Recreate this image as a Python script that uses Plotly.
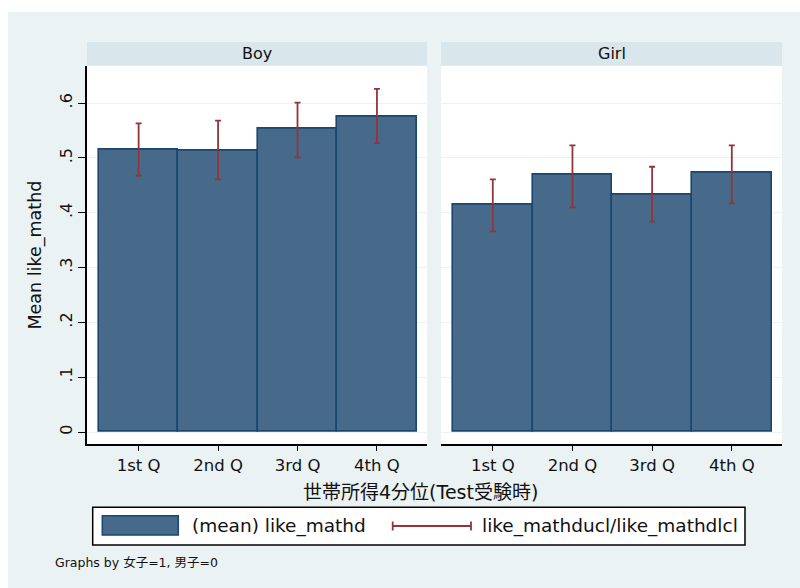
import plotly.graph_objects as go

# Income quartile categories and group labels
quartiles = ["1st Q", "2nd Q", "3rd Q", "4th Q"]
groups = ["Boy", "Girl"]

# Mean of like_mathd with upper / lower confidence limits
boy_mean = [0.516, 0.513, 0.553, 0.575]
boy_ucl = [0.563, 0.568, 0.601, 0.626]
boy_lcl = [0.468, 0.461, 0.501, 0.527]

girl_mean = [0.415, 0.469, 0.433, 0.473]
girl_ucl = [0.461, 0.523, 0.484, 0.523]
girl_lcl = [0.366, 0.410, 0.384, 0.417]

y_tick_vals = [0, 0.1, 0.2, 0.3, 0.4, 0.5, 0.6]
y_tick_text = ["0", ".1", ".2", ".3", ".4", ".5", ".6"]

BG = "#EAF2F3"
STRIP = "#D9E6EB"
BAR_FILL = "#476A8A"
BAR_LINE = "#1A476F"
MAROON = "#90353B"
FONT = "DejaVu Sans, Noto Sans CJK JP, sans-serif"

W, H = 800, 588


def px_x(v):
    return v / W


def px_y(v):
    return (H - v) / H


fig = go.Figure()

panels = [
    (boy_mean, boy_ucl, boy_lcl, "x", "y"),
    (girl_mean, girl_ucl, girl_lcl, "x2", "y2"),
]
for mean, ucl, lcl, xa, ya in panels:
    fig.add_trace(go.Bar(
        x=quartiles, y=mean, xaxis=xa, yaxis=ya,
        marker=dict(color=BAR_FILL, line=dict(color=BAR_LINE, width=1.6)),
        error_y=dict(
            type="data", symmetric=False,
            array=[u - m for u, m in zip(ucl, mean)],
            arrayminus=[m - l for m, l in zip(mean, lcl)],
            color=MAROON, thickness=1.8, width=3,
        ),
        showlegend=False, hoverinfo="skip",
    ))

x_dom_left = [px_x(87), px_x(427)]
x_dom_right = [px_x(441), px_x(782)]
y_dom = [px_y(444), px_y(65.7)]
y_range = [-0.0219, 0.6684]
x_range = [-0.65, 3.63]

xaxis_common = dict(
    type="category", range=x_range, showgrid=False, zeroline=False,
    showline=True, linecolor="black", linewidth=1.5,
    ticks="outside", ticklen=5, tickcolor="black", tickwidth=1.2,
    tickfont=dict(family=FONT, size=16.5, color="#111"),
    fixedrange=True,
)
yaxis_common = dict(
    range=y_range, domain=y_dom, tickvals=y_tick_vals, ticktext=y_tick_text,
    showgrid=True, gridcolor=BG, gridwidth=1.2, zeroline=False,
    fixedrange=True,
)

fig.update_layout(
    width=W, height=H,
    margin=dict(l=0, r=0, t=0, b=0),
    paper_bgcolor=BG, plot_bgcolor="white",
    bargap=0,
    xaxis=dict(domain=x_dom_left, anchor="y", **xaxis_common),
    xaxis2=dict(domain=x_dom_right, anchor="y2", **xaxis_common),
    yaxis=dict(
        anchor="x", showline=True, linecolor="black", linewidth=1.5,
        ticks="outside", ticklen=7, tickcolor="black", tickwidth=1.2,
        tickangle=-90, tickfont=dict(family=FONT, size=16, color="#111"),
        **yaxis_common,
    ),
    yaxis2=dict(
        anchor="x2", showline=False, ticks="", showticklabels=False,
        **yaxis_common,
    ),
)

shapes = []
# white margin strips at the top and left edges
shapes.append(dict(type="rect", xref="paper", yref="paper", x0=0, x1=1,
                   y0=px_y(12), y1=1, fillcolor="white", line_width=0, layer="below"))
shapes.append(dict(type="rect", xref="paper", yref="paper", x0=0, x1=px_x(8),
                   y0=0, y1=1, fillcolor="white", line_width=0, layer="below"))

# panel header strips
for dom in (x_dom_left, x_dom_right):
    shapes.append(dict(type="rect", xref="paper", yref="paper",
                       x0=dom[0], x1=dom[1], y0=px_y(65.7), y1=px_y(42),
                       fillcolor=STRIP, line_width=0, layer="below"))

# legend box
shapes.append(dict(type="rect", xref="paper", yref="paper",
                   x0=px_x(92.7), x1=px_x(745), y0=px_y(545), y1=px_y(507.3),
                   fillcolor="white", line=dict(color="black", width=1.5)))
shapes.append(dict(type="rect", xref="paper", yref="paper",
                   x0=px_x(102.3), x1=px_x(178.3), y0=px_y(535), y1=px_y(515.7),
                   fillcolor=BAR_FILL, line=dict(color=BAR_LINE, width=1.5)))
# legend key for the confidence-limit caps
ly = 526
shapes.append(dict(type="line", xref="paper", yref="paper",
                   x0=px_x(392.7), x1=px_x(471), y0=px_y(ly), y1=px_y(ly),
                   line=dict(color=MAROON, width=1.8)))
for cx in (392.7, 471):
    shapes.append(dict(type="line", xref="paper", yref="paper",
                       x0=px_x(cx), x1=px_x(cx), y0=px_y(ly - 4.5), y1=px_y(ly + 4.5),
                       line=dict(color=MAROON, width=1.8)))

annotations = [
    dict(text=groups[0], x=(x_dom_left[0] + x_dom_left[1]) / 2, y=px_y(53.5)),
    dict(text=groups[1], x=(x_dom_right[0] + x_dom_right[1]) / 2, y=px_y(53.5)),
]
for a in annotations:
    a.update(xref="paper", yref="paper", showarrow=False, xanchor="center",
             yanchor="middle", font=dict(family=FONT, size=16, color="#111"))

annotations += [
    dict(text="Mean like_mathd", x=px_x(35), y=px_y(255.5), textangle=-90,
         xref="paper", yref="paper", showarrow=False, xanchor="center", yanchor="middle",
         font=dict(family=FONT, size=17.5, color="#111")),
    dict(text="世帯所得4分位(Test受験時)", x=px_x(420), y=px_y(492),
         xref="paper", yref="paper", showarrow=False, xanchor="center", yanchor="middle",
         font=dict(family=FONT, size=19, color="#111")),
    dict(text="(mean) like_mathd", x=px_x(190), y=px_y(526),
         xref="paper", yref="paper", showarrow=False, xanchor="left", yanchor="middle",
         font=dict(family=FONT, size=18.5, color="#111")),
    dict(text="like_mathducl/like_mathdlcl", x=px_x(480), y=px_y(526),
         xref="paper", yref="paper", showarrow=False, xanchor="left", yanchor="middle",
         font=dict(family=FONT, size=18.5, color="#111")),
    dict(text="Graphs by 女子=1, 男子=0", x=px_x(53), y=px_y(562),
         xref="paper", yref="paper", showarrow=False, xanchor="left", yanchor="middle",
         font=dict(family=FONT, size=12.5, color="#111")),
]

fig.update_layout(shapes=shapes, annotations=annotations)

fig.write_html("out.html")
